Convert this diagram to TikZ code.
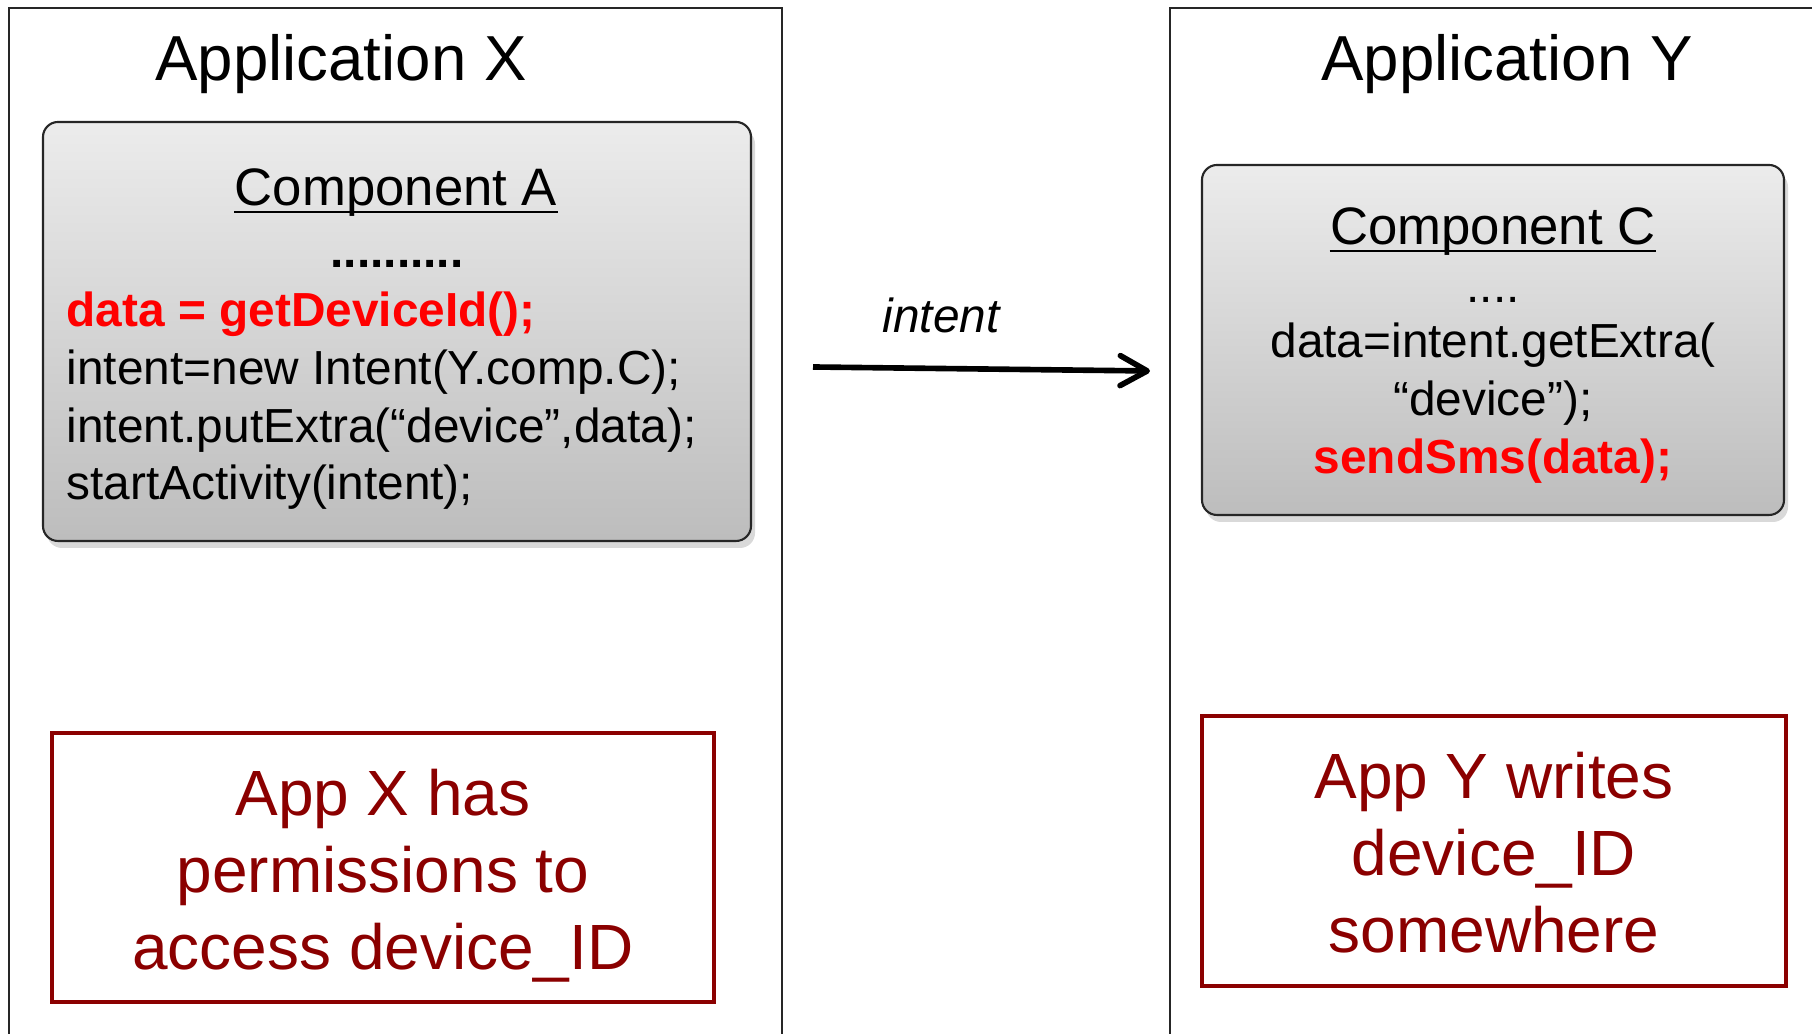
\documentclass[tikz,border=0pt]{standalone}
\usepackage{fontspec}
\setmainfont{Liberation Sans}
\usetikzlibrary{arrows.meta,shadows}
\definecolor{alert}{RGB}{255,0,0}
\definecolor{note}{RGB}{139,0,0}

\begin{document}
\begin{tikzpicture}[
    appbox/.style={draw=black!85, line width=0.6pt, inner sep=0pt},
    comp/.style={draw=black!85, line width=0.6pt, rounded corners=0.15cm,
      top color=gray!15, bottom color=gray!52,
      drop shadow={shadow xshift=0.04cm, shadow yshift=-0.07cm, opacity=0.3}},
    notebox/.style={draw=note, line width=1.4pt},
    notetext/.style={text=note, align=center, inner sep=0pt,
      font=\fontsize{18.2}{21.9}\selectfont},
    title/.style={inner sep=0pt, font=\fontsize{18.1}{21.7}\selectfont},
    head/.style={inner sep=0pt, font=\fontsize{15}{18}\selectfont},
    code/.style={inner sep=0pt, font=\fontsize{13.6}{16.5}\selectfont}]

  \useasboundingbox (0,0) rectangle (18.12,10.34);
  \clip (0,0) rectangle (18.12,10.34);

  \node[appbox, minimum width=7.73cm, minimum height=10.76cm] (appX) at (3.955,4.88) {};
  \node[appbox, minimum width=6.80cm, minimum height=10.76cm] (appY) at (15.10,4.88) {};

  \node[title, anchor=base] (tX) at (3.41,9.53)  {Application X};
  \node[title, anchor=base] (tY) at (15.07,9.53) {Application Y};

  \node[comp, minimum width=7.08cm, minimum height=4.19cm] (compA) at (3.97,7.025) {};
  \node[comp, minimum width=5.82cm, minimum height=3.50cm] (compC) at (14.93,6.94) {};

  \begin{scope}[every node/.style={code, anchor=base west}]
    \node[text=alert] (a1) at (0.66,7.07) {\bfseries data = getDeviceId();};
    \node (a2) at (0.66,6.49) {intent=new Intent(Y.comp.C);};
    \node (a3) at (0.66,5.91) {intent.putExtra(“device”,data);};
    \node (a4) at (0.66,5.34) {startActivity(intent);};
  \end{scope}

  \begin{scope}[every node/.style={code, anchor=base}]
    \node (dotsA) at (3.97,7.66)  {\bfseries ..........};
    \node (dotsC) at (14.93,7.31) {....};
    \node (c1) at (14.93,6.76) {data=intent.getExtra(};
    \node (c2) at (14.93,6.18) {“device”);};
    \node[text=alert] (c3) at (14.93,5.60) {\bfseries sendSms(data);};
  \end{scope}

  \node[head, anchor=base] (nameA) at (3.96,8.28)  {Component A};
  \node[head, anchor=base] (nameC) at (14.93,7.89) {Component C};
  \foreach \n in {nameA,nameC}
    \draw[line width=0.6pt] ([yshift=-0.62mm]\n.base west) -- ([yshift=-0.62mm]\n.base east);

  \coordinate (from) at (8.13,6.67);
  \coordinate (to)   at (11.50,6.63);
  \draw[line width=1.6pt, -{Straight Barb[length=2.7mm,width=3mm,round]}] (from) --
    node[code, font=\fontsize{13.6}{16.5}\selectfont\itshape, pos=0.38, anchor=base, yshift=3.65mm] (lbl) {intent} (to);

  \node[notebox, minimum width=6.62cm, minimum height=2.69cm] (noteX) at (3.83,1.665) {};
  \node[notebox, minimum width=5.84cm, minimum height=2.70cm] (noteY) at (14.94,1.83) {};
  \node[notetext, yshift=-0.08cm] (msgX) at (noteX) {App X has\\permissions to\\access device\_ID};
  \node[notetext, yshift=-0.02cm] (msgY) at (noteY) {App Y writes\\device\_ID\\somewhere};

\end{tikzpicture}
\end{document}
